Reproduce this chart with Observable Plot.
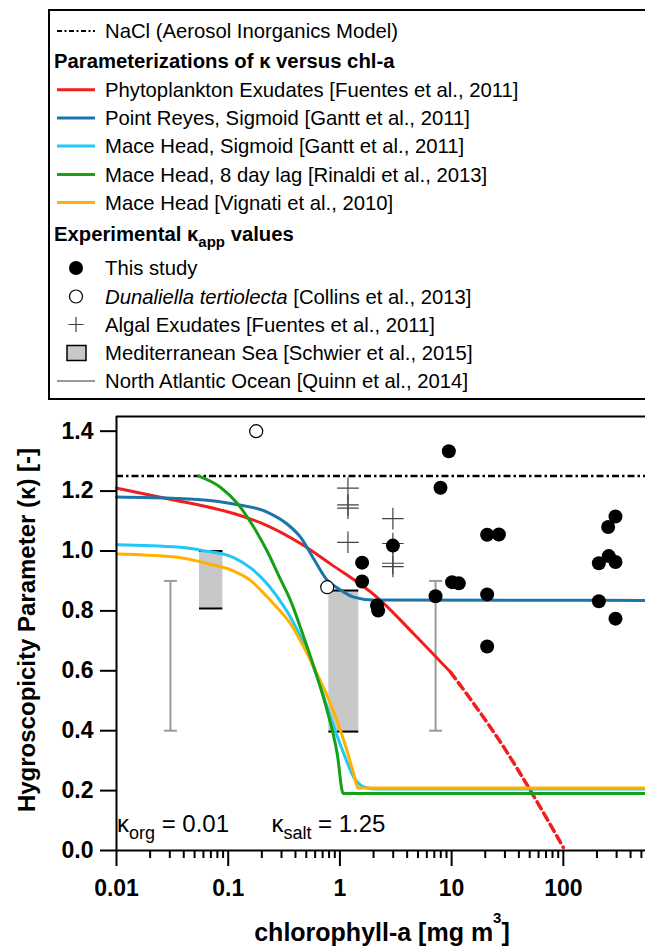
<!DOCTYPE html>
<html><head><meta charset="utf-8">
<script src="https://cdn.jsdelivr.net/npm/d3@7"></script>
<script src="https://cdn.jsdelivr.net/npm/@observablehq/plot@0.6"></script>
<style>
html,body{margin:0;padding:0;background:#fff;}
#legend svg,#chart svg{display:block;}
</style></head>
<body><div id="legend"></div><div id="chart"></div>
<script>
// ---------- data ----------
// This study (filled circles)
const studyChl   = [1.58, 1.58, 2.98, 2.15, 2.2, 7.18, 7.95, 9.44, 10.1, 11.6, 20.8, 26.5, 20.8, 20.8, 208, 255, 293, 252, 293, 208, 293];
const studyKappa = [0.961, 0.898, 1.018, 0.818, 0.801, 0.849, 1.211, 1.333, 0.896, 0.892, 1.054, 1.055, 0.855, 0.681, 0.959, 0.983, 0.963, 1.080, 1.115, 0.832, 0.774];
// Dunaliella tertiolecta [Collins et al., 2013] (open circles)
const dunaChl   = [0.178, 0.77];
const dunaKappa = [1.40, 0.879];
// Algal exudates [Fuentes et al., 2011] (plus)
const algalChl   = [1.18, 1.18, 1.18, 1.18, 2.98, 2.98, 2.98, 2.98];
const algalKappa = [1.21, 1.154, 1.143, 1.029, 1.108, 1.025, 0.959, 0.948];
// Mediterranean Sea [Schwier et al., 2015] (boxes)
const medChlLow   = [0.0553, 0.796];
const medChlHigh  = [0.0896, 1.476];
const medKappaLow = [0.808, 0.397];
const medKappaHigh= [1.0, 0.868];
// North Atlantic Ocean [Quinn et al., 2014] (ranges)
const atlChl      = [0.0304, 7.18];
const atlKappaLow = [0.40, 0.40];
const atlKappaHigh= [0.90, 0.90];
// NaCl (AIM)
const naclKappa = 1.25;
// Parameterizations
const fuentesChl   = [0.01, 0.035, 0.057, 0.112, 0.223, 0.444, 0.824, 2.22, 4.59, 9.8];
const fuentesKappa = [1.21, 1.168, 1.152, 1.125, 1.085, 1.025, 0.957, 0.841, 0.723, 0.595];
const fuentesExtChl   = [9.8, 15.8, 29.3, 50.8, 100];
const fuentesExtKappa = [0.595, 0.49, 0.345, 0.2, 0.01];
const pointReyesChl   = [0.01, 0.035, 0.057, 0.112, 0.223, 0.337, 0.444, 0.58, 0.77, 0.946, 1.33, 2.0, 544];
const pointReyesKappa = [1.18, 1.175, 1.171, 1.157, 1.13, 1.09, 1.046, 0.975, 0.902, 0.877, 0.846, 0.836, 0.835];
const maceSigChl   = [0.01, 0.035, 0.06, 0.112, 0.163, 0.23, 0.315, 0.361, 0.475, 0.626, 0.824, 1.084, 1.33, 1.64, 2.16, 544];
const maceSigKappa = [1.021, 1.013, 1.001, 0.978, 0.94, 0.885, 0.815, 0.779, 0.69, 0.579, 0.445, 0.323, 0.245, 0.212, 0.205, 0.205];
const maceLagChl   = [0.0546, 0.085, 0.12, 0.169, 0.223, 0.294, 0.361, 0.475, 0.626, 0.769, 0.946, 1.07, 544];
const maceLagKappa = [1.25, 1.213, 1.16, 1.08, 1.0, 0.905, 0.835, 0.712, 0.579, 0.467, 0.323, 0.19, 0.19];
const vignatiChl   = [0.01, 0.035, 0.065, 0.112, 0.158, 0.223, 0.256, 0.361, 0.475, 0.626, 0.824, 1.084, 1.33, 1.45, 544];
const vignatiKappa = [0.99, 0.979, 0.958, 0.933, 0.902, 0.847, 0.823, 0.757, 0.679, 0.589, 0.49, 0.367, 0.256, 0.209, 0.209];
// ticks
const xMajorTicks = [0.01, 0.1, 1, 10, 100];
const xMinorTicks = [2,3,4,5,6,7,8,9].flatMap(m => [0.01, 0.1, 1, 10, 100].map(d => m * d)).filter(v => v < 544);
const yTicks = [0, 0.2, 0.4, 0.6, 0.8, 1.0, 1.2, 1.4];
// legend text
const legendNaCl = "NaCl (Aerosol Inorganics Model)";
const legendHeader1 = "Parameterizations of κ versus chl-a";
const paramLabels = ["Phytoplankton Exudates [Fuentes et al., 2011]", "Point Reyes, Sigmoid [Gantt et al., 2011]", "Mace Head, Sigmoid [Gantt et al., 2011]", "Mace Head, 8 day lag [Rinaldi et al., 2013]", "Mace Head [Vignati et al., 2010]"];
const paramColors = ["#f21d1d", "#1b75a9", "#1fc8f6", "#16a016", "#ffb100"];

// ---------- build tables ----------
const zip = (xs, ys) => xs.map((x, i) => ({chl: x, kappa: ys[i]}));
const study = zip(studyChl, studyKappa);
const duna = zip(dunaChl, dunaKappa);
const algal = zip(algalChl, algalKappa);
const med = medChlLow.map((x, i) => ({x1: x, x2: medChlHigh[i], lo: medKappaLow[i], hi: medKappaHigh[i]}));
const atl = atlChl.map((x, i) => ({chl: x, lo: atlKappaLow[i], hi: atlKappaHigh[i]}));

const FONT = "'Liberation Sans', Arial, Helvetica, sans-serif";
const capSymbol = {draw(ctx, size) { const w = Math.sqrt(size / Math.PI); ctx.moveTo(-w, 0); ctx.lineTo(w, 0); }};

const plot = Plot.plot({
  width: 645, height: 549,
  marginTop: 16, marginBottom: 99, marginLeft: 116, marginRight: 0,
  x: {type: "log", domain: [0.01, 544]},
  y: {domain: [0, 1.449]},
  style: {fontFamily: FONT, color: "black", background: "white", overflow: "visible"},
  marks: [
    Plot.rect(med, {x1: "x1", x2: "x2", y1: "lo", y2: "hi", fill: "#c8c8c8"}),
    Plot.ruleY(med, {y: "hi", x1: "x1", x2: "x2", stroke: "black", strokeWidth: 2}),
    Plot.ruleY(med, {y: "lo", x1: "x1", x2: "x2", stroke: "black", strokeWidth: 2}),
    Plot.ruleX(atl, {x: "chl", y1: "lo", y2: "hi", stroke: "#9a9a9a", strokeWidth: 2}),
    Plot.dot(atl, {x: "chl", y: "lo", symbol: capSymbol, r: 6.5, fill: "none", stroke: "#9a9a9a", strokeWidth: 2}),
    Plot.dot(atl, {x: "chl", y: "hi", symbol: capSymbol, r: 6.5, fill: "none", stroke: "#9a9a9a", strokeWidth: 2}),
    Plot.ruleY([naclKappa], {stroke: "black", strokeWidth: 2.5, strokeDasharray: "7,3,2.5,3"}),
    Plot.line(zip(fuentesChl, fuentesKappa), {x: "chl", y: "kappa", stroke: paramColors[0], strokeWidth: 3, curve: "monotone-x"}),
    Plot.line(zip(fuentesExtChl, fuentesExtKappa), {x: "chl", y: "kappa", stroke: paramColors[0], strokeWidth: 3.5, strokeDasharray: "8,5", curve: "monotone-x"}),
    Plot.line(zip(pointReyesChl, pointReyesKappa), {x: "chl", y: "kappa", stroke: paramColors[1], strokeWidth: 3, curve: "monotone-x"}),
    Plot.line(zip(maceSigChl, maceSigKappa), {x: "chl", y: "kappa", stroke: paramColors[2], strokeWidth: 3, curve: "monotone-x"}),
    Plot.line(zip(vignatiChl, vignatiKappa), {x: "chl", y: "kappa", stroke: paramColors[4], strokeWidth: 3, curve: "monotone-x"}),
    Plot.line(zip(maceLagChl, maceLagKappa), {x: "chl", y: "kappa", stroke: paramColors[3], strokeWidth: 3, curve: "monotone-x"}),
    Plot.dot(algal, {x: "chl", y: "kappa", symbol: "plus", r: 7, stroke: "#444", strokeWidth: 1.2}),
    Plot.dot(duna, {x: "chl", y: "kappa", r: 6.5, fill: "white", stroke: "black", strokeWidth: 1.2}),
    Plot.dot(study, {x: "chl", y: "kappa", r: 7, fill: "black"}),
    Plot.ruleX([0.01], {stroke: "black", strokeWidth: 2}),
    Plot.ruleY([0], {stroke: "black", strokeWidth: 2}),
    Plot.ruleY([1.449], {stroke: "black", strokeWidth: 2}),
    Plot.axisX({ticks: xMinorTicks, tickSize: 8, tickFormat: () => "", label: null, strokeWidth: 2}),
    Plot.axisX({ticks: xMajorTicks, tickSize: 16, tickPadding: 13, tickFormat: d => String(d), label: null, strokeWidth: 2, fontSize: 23, fontWeight: "bold"}),
    Plot.axisY({ticks: yTicks, tickSize: 16, tickPadding: 7, tickFormat: d => d.toFixed(1), label: null, strokeWidth: 2, fontSize: 23, fontWeight: "bold"})
  ]
});
document.getElementById("chart").appendChild(plot);

// ---------- axis titles & annotations ----------
const svg = d3.select(plot);
const xs = plot.scale("x"), ys = plot.scale("y");
const ann = svg.append("g").attr("font-family", FONT).attr("fill", "black").attr("text-anchor", "start");
ann.append("text").attr("transform", "translate(35,230) rotate(-90)").attr("text-anchor", "middle")
  .attr("font-size", 24).attr("font-weight", "bold").text("Hygroscopicity Parameter (κ) [-]");
const xl = ann.append("text").attr("x", 382).attr("y", 541).attr("text-anchor", "middle").attr("font-size", 25).attr("font-weight", "bold");
xl.append("tspan").text("chlorophyll-a [mg m");
xl.append("tspan").attr("font-size", 15).attr("dy", -18).text("3");
xl.append("tspan").attr("dy", 18).text("]");
function kappaLabel(x, y, sub, rest) {
  const t = ann.append("text").attr("x", x).attr("y", y).attr("font-size", 24).attr("text-anchor", "start");
  t.append("tspan").text("κ");
  t.append("tspan").attr("font-size", 18).attr("dy", 7).text(sub);
  t.append("tspan").attr("dy", -7).text(" " + rest);
}
kappaLabel(xs.apply(0.0102), ys.apply(0.06), "org", "= 0.01");
kappaLabel(xs.apply(0.246), ys.apply(0.06), "salt", "= 1.25");

// ---------- legend ----------
const leg = d3.select("#legend").append("svg").attr("width", 645).attr("height", 400)
  .attr("font-family", FONT).attr("font-size", 20.3);
leg.append("rect").attr("x", 49).attr("y", 10).attr("width", 700).attr("height", 389)
  .attr("fill", "white").attr("stroke", "black").attr("stroke-width", 2);
const tx = 105, sx0 = 57, sx1 = 95, sc = 76;
// NaCl
leg.append("line").attr("x1", sx0).attr("x2", sx1).attr("y1", 31).attr("y2", 31)
  .attr("stroke", "black").attr("stroke-width", 2).attr("stroke-dasharray", "5,2.5,2,2.5");
leg.append("text").attr("x", tx).attr("y", 38).text(legendNaCl);
leg.append("text").attr("x", 54).attr("y", 68).attr("font-weight", "bold").text(legendHeader1);
const paramY = [96.7, 125, 153, 181.5, 209.5];
paramLabels.forEach((lab, i) => {
  leg.append("line").attr("x1", sx0).attr("x2", sx1).attr("y1", paramY[i] - 7).attr("y2", paramY[i] - 7)
    .attr("stroke", paramColors[i]).attr("stroke-width", 3);
  leg.append("text").attr("x", tx).attr("y", paramY[i]).text(lab);
});
const h2 = leg.append("text").attr("x", 54).attr("y", 241).attr("font-weight", "bold");
h2.append("tspan").text("Experimental κ");
h2.append("tspan").attr("font-size", 15).attr("dy", 6).text("app");
h2.append("tspan").attr("dy", -6).text(" values");
// This study
leg.append("circle").attr("cx", sc).attr("cy", 268).attr("r", 7).attr("fill", "black");
leg.append("text").attr("x", tx).attr("y", 275).text("This study");
// Dunaliella
leg.append("circle").attr("cx", sc).attr("cy", 296.5).attr("r", 6.5).attr("fill", "white").attr("stroke", "black").attr("stroke-width", 1.2);
const dt = leg.append("text").attr("x", tx).attr("y", 303.5);
dt.append("tspan").attr("font-style", "italic").text("Dunaliella tertiolecta");
dt.append("tspan").text(" [Collins et al., 2013]");
// Algal
leg.append("path").attr("d", `M${sc - 7.5},324.5h15M${sc},317v15`).attr("stroke", "#444").attr("stroke-width", 1.2);
leg.append("text").attr("x", tx).attr("y", 331.7).text("Algal Exudates [Fuentes et al., 2011]");
// Mediterranean
leg.append("rect").attr("x", 67).attr("y", 345.5).attr("width", 19).attr("height", 15)
  .attr("fill", "#c8c8c8").attr("stroke", "black").attr("stroke-width", 1.5);
leg.append("text").attr("x", tx).attr("y", 360).text("Mediterranean Sea [Schwier et al., 2015]");
// North Atlantic
leg.append("line").attr("x1", sx0).attr("x2", sx1).attr("y1", 381).attr("y2", 381).attr("stroke", "#9a9a9a").attr("stroke-width", 2);
leg.append("text").attr("x", tx).attr("y", 388.3).text("North Atlantic Ocean [Quinn et al., 2014]");
</script>
</body></html>
